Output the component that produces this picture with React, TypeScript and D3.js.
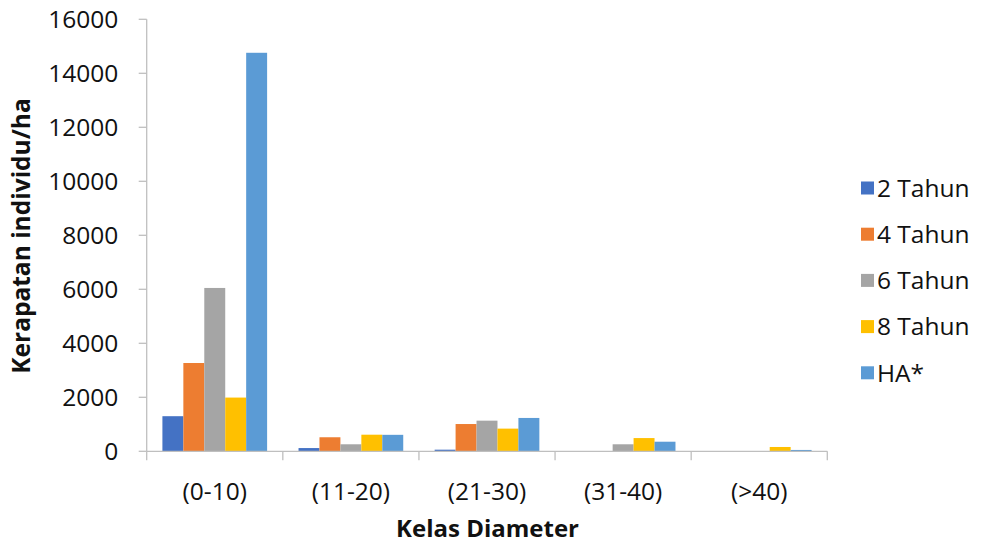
import React from "react";
import * as d3 from "d3";

const categories = ["(0-10)", "(11-20)", "(21-30)", "(31-40)", "(>40)"];
const seriesNames = ["2 Tahun", "4 Tahun", "6 Tahun", "8 Tahun", "HA*"];
const colors = ["#4472C4", "#ED7D31", "#A5A5A5", "#FFC000", "#5B9BD5"];
const tahun2 = [1300, 120, 60, 0, 0];
const tahun4 = [3270, 520, 1010, 0, 0];
const tahun6 = [6050, 260, 1135, 260, 0];
const tahun8 = [1990, 615, 840, 490, 160];
const ha = [14760, 610, 1235, 355, 50];
const yTicks = [0, 2000, 4000, 6000, 8000, 10000, 12000, 14000, 16000];

const seriesValues = [tahun2, tahun4, tahun6, tahun8, ha];

const W = 982;
const H = 544;
const left = 146.7;
const right = 827.3;
const top = 19.3;
const bottom = 451.3;
const font = "'Open Sans', 'Segoe UI', sans-serif";
const axisColor = "#BFBFBF";

export default function App() {
  const x = d3.scaleBand<string>().domain(categories).range([left, right]).padding(0);
  // Excel-style gap width of 150%: bar width = band / (n + 1.5)
  const barW = x.bandwidth() / (seriesNames.length + 1.5);
  const groupOffset = (x.bandwidth() - barW * seriesNames.length) / 2;
  const y = d3.scaleLinear().domain([0, 16000]).range([bottom, top]);

  return (
    <svg
      width={W}
      height={H}
      style={{ position: "absolute", left: 0, top: 0, background: "#fff" }}
      fontFamily={font}
    >
      {/* y axis */}
      <line x1={left} x2={left} y1={top} y2={bottom} stroke={axisColor} strokeWidth={1.3} />
      {yTicks.map((t) => (
        <g key={t}>
          <line x1={left - 8} x2={left} y1={y(t)} y2={y(t)} stroke={axisColor} strokeWidth={1.3} />
          <text x={left - 28.5} y={y(t)} dy="0.36em" textAnchor="end" fontSize={24.5} fill="#111">
            {t}
          </text>
        </g>
      ))}
      {/* bars */}
      {categories.map((c, ci) =>
        seriesValues.map((vals, si) => {
          const v = vals[ci];
          if (v <= 0) return null;
          const bx = (x(c) as number) + groupOffset + si * barW;
          return (
            <rect
              key={`${ci}-${si}`}
              x={bx}
              y={y(v)}
              width={barW}
              height={bottom - y(v)}
              fill={colors[si]}
            />
          );
        })
      )}
      {/* x axis */}
      <line x1={left} x2={right} y1={bottom} y2={bottom} stroke={axisColor} strokeWidth={1.3} />
      {[...categories.map((c) => x(c) as number), right].map((px, i) => (
        <line key={i} x1={px} x2={px} y1={bottom} y2={bottom + 9} stroke={axisColor} strokeWidth={1.3} />
      ))}
      {categories.map((c) => (
        <text
          key={c}
          x={(x(c) as number) + x.bandwidth() / 2}
          y={491}
          dy="0.36em"
          textAnchor="middle"
          fontSize={24.5}
          fill="#111"
        >
          {c}
        </text>
      ))}
      {/* axis titles */}
      <text
        transform={`translate(21, 236) rotate(-90)`}
        textAnchor="middle"
        dy="0.36em"
        fontSize={24.5}
        fontWeight="bold"
        fill="#111"
      >
        Kerapatan individu/ha
      </text>
      <text x={487.5} y={528.5} dy="0.36em" textAnchor="middle" fontSize={24} fontWeight="bold" fill="#111">
        Kelas Diameter
      </text>
      {/* legend */}
      {seriesNames.map((s, i) => {
        const cy = 188 + i * 46.2;
        return (
          <g key={s}>
            <rect x={861} y={cy - 6.5} width={13} height={13} fill={colors[i]} />
            <text x={877} y={cy} dy="0.36em" fontSize={24.5} fill="#111">
              {s}
            </text>
          </g>
        );
      })}
    </svg>
  );
}
